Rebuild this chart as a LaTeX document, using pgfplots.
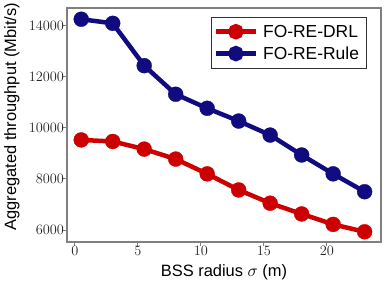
\documentclass[border=0pt]{standalone}
\usepackage{pgfplots}
\pgfplotsset{compat=1.18}
\usepackage{fontspec}
\setmainfont{Liberation Sans}
\definecolor{myred}{RGB}{204,0,0}
\definecolor{myblue}{RGB}{16,12,128}
\definecolor{axgray}{RGB}{128,128,128}
\begin{document}
\begin{tikzpicture}
\useasboundingbox (-67bp,-44bp) rectangle (319bp,242bp);
\begin{axis}[
  scale only axis,
  width=314bp, height=234bp,
  xmin=-0.63, xmax=24.3,
  ymin=5530, ymax=14700,
  xtick={0,5,10,15,20},
  ytick={6000,8000,10000,12000,14000},
  scaled y ticks=false,
  yticklabel style={/pgf/number format/1000 sep={}, xshift=4bp},
  xticklabel style={yshift=2.5bp},
  tick label style={font=\fontsize{15}{17}\selectfont, text=black!85},
  axis line style={axgray, line width=1.2pt},
  tick style={axgray, line width=1pt},
  tick align=outside,
  xtick pos=bottom, ytick pos=left,
  major tick length=3.5bp,
  xlabel={BSS radius $\sigma$ (m)},
  ylabel={Aggregated throughput (Mbit/s)},
  label style={font=\fontsize{16.5}{19}\selectfont},
  xlabel style={at={(axis description cs:0.5,0)}, anchor=center, yshift=-30bp},
  ylabel style={at={(axis description cs:0,0.536)}, anchor=center, yshift=55bp},
  legend style={at={(0.955,0.9615)}, anchor=north east, draw=black!80, line width=0.8pt,
    font=\fontsize{17.5}{20}\selectfont, row sep=4pt, inner xsep=2.5pt, inner ysep=5.5pt,
    nodes={inner xsep=5pt}},
  legend cell align=left,
  legend image code/.code={
    \draw[#1, line width=4.5bp] (0bp,0bp) -- (40bp,0bp);
    \fill[#1] (20bp,0bp) circle (5.5bp);
  },
]
\addplot[myred, line width=4.5bp, mark=*, mark size=7.5bp, mark options={solid, fill=myred, draw=myred, line width=0.3bp}]
coordinates {(0.5,9530) (3,9470) (5.5,9170) (8,8780) (10.5,8200) (13,7570) (15.5,7050) (18,6630) (20.5,6220) (23,5930)};
\addlegendentry{FO-RE-DRL}
\addplot[myblue, line width=4.5bp, mark=*, mark size=7.5bp, mark options={solid, fill=myblue, draw=myblue, line width=0.3bp}]
coordinates {(0.5,14260) (3,14100) (5.5,12440) (8,11320) (10.5,10770) (13,10270) (15.5,9720) (18,8940) (20.5,8200) (23,7500)};
\addlegendentry{FO-RE-Rule}
\end{axis}
\end{tikzpicture}
\end{document}
